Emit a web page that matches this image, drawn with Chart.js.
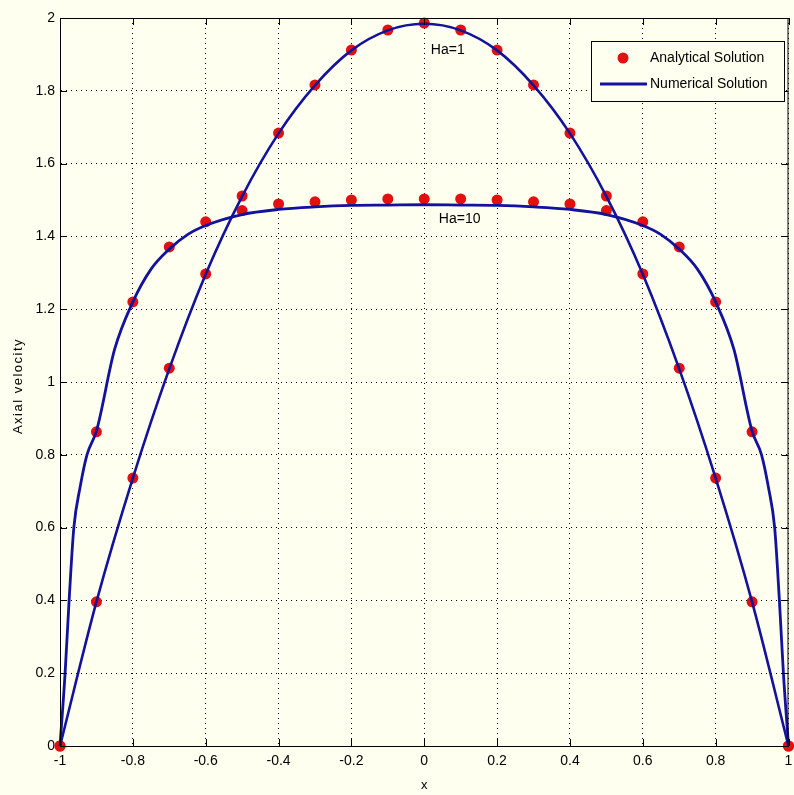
<!DOCTYPE html>
<html>
<head>
<meta charset="utf-8">
<title>Axial velocity</title>
<script src="https://cdn.jsdelivr.net/npm/chart.js@4.4.1/dist/chart.umd.min.js"></script>
<style>
  html, body { margin: 0; padding: 0; background: #fffff0; }
  #wrap { width: 794px; height: 795px; }
</style>
</head>
<body>
<div id="wrap"><canvas id="velocityChart" width="794" height="795"></canvas></div>
<script>
// analytical points (red dots), x = -1 .. 1 step 0.1
const xAnalytical = [-1, -0.9, -0.8, -0.7, -0.6, -0.5, -0.4, -0.3, -0.2, -0.1, 0,
                     0.1, 0.2, 0.3, 0.4, 0.5, 0.6, 0.7, 0.8, 0.9, 1];
const ha1Analytical = [0, 0.396, 0.736, 1.038, 1.297, 1.511, 1.684, 1.816, 1.912, 1.967, 1.986,
                       1.967, 1.912, 1.816, 1.684, 1.511, 1.297, 1.038, 0.736, 0.396, 0];
const ha10Analytical = [0, 0.863, 1.22, 1.371, 1.44, 1.471, 1.489, 1.495, 1.5, 1.503, 1.503,
                        1.503, 1.5, 1.495, 1.489, 1.471, 1.44, 1.371, 1.22, 0.863, 0];

// numerical solution (blue lines)
const xNumHa1 = xAnalytical;
const ha1Numerical = [0, 0.396, 0.736, 1.036, 1.296, 1.51, 1.683, 1.815, 1.911, 1.966, 1.984,
                      1.966, 1.911, 1.815, 1.683, 1.51, 1.296, 1.036, 0.736, 0.396, 0];
const xNumHa10 = [-1, -0.986, -0.975, -0.962, -0.945, -0.926, -0.9, -0.85, -0.8, -0.75, -0.7, -0.65, -0.6,
                  -0.5, -0.4, -0.3, -0.2, -0.1, 0, 0.1, 0.2, 0.3, 0.4, 0.5,
                  0.6, 0.65, 0.7, 0.75, 0.8, 0.85, 0.9, 0.926, 0.945, 0.962, 0.975, 0.986, 1];
const ha10Numerical = [0, 0.2, 0.4, 0.6, 0.71, 0.8, 0.865, 1.09, 1.22, 1.31, 1.365, 1.405, 1.43,
                       1.46, 1.474, 1.481, 1.485, 1.486, 1.487, 1.486, 1.485, 1.481, 1.474, 1.46,
                       1.43, 1.405, 1.365, 1.31, 1.22, 1.09, 0.865, 0.8, 0.71, 0.6, 0.4, 0.2, 0];

const xTicks = [-1, -0.8, -0.6, -0.4, -0.2, 0, 0.2, 0.4, 0.6, 0.8, 1];
const yTicks = [0, 0.2, 0.4, 0.6, 0.8, 1, 1.2, 1.4, 1.6, 1.8, 2];

const curveNames = ['Ha=1', 'Ha=10'];
const legendNames = ['Analytical Solution', 'Numerical Solution'];

const RED = '#e2100f';
const BLUE = '#12129c';
const FONT = '"Liberation Sans", Arial, sans-serif';

Chart.defaults.font.family = FONT;
Chart.defaults.color = '#000';

function zip(xs, ys) {
  return xs.map((x, i) => ({ x: x, y: ys[i] }));
}

// box round the axes, inward tick marks, curve labels, y title and legend
const matlabLook = {
  id: 'matlabLook',
  afterDraw(chart) {
    const ctx = chart.ctx;
    const a = chart.chartArea;
    const xs = chart.scales.x, ys = chart.scales.y;
    ctx.save();
    ctx.strokeStyle = '#000';
    ctx.lineWidth = 1;
    ctx.strokeRect(a.left + 0.5, a.top + 0.5, a.right - a.left - 1, a.bottom - a.top);

    ctx.beginPath();
    xTicks.forEach(t => {
      const px = Math.round(xs.getPixelForValue(t)) + 0.5;
      ctx.moveTo(px, a.bottom); ctx.lineTo(px, a.bottom - 7);
      ctx.moveTo(px, a.top); ctx.lineTo(px, a.top + 7);
    });
    yTicks.forEach(t => {
      const py = Math.round(ys.getPixelForValue(t)) + 0.5;
      ctx.moveTo(a.left, py); ctx.lineTo(a.left + 7, py);
      ctx.moveTo(a.right, py); ctx.lineTo(a.right - 7, py);
    });
    ctx.stroke();

    // curve labels
    ctx.font = '14px ' + FONT;
    ctx.fillStyle = '#000';
    ctx.textAlign = 'left';
    ctx.textBaseline = 'middle';
    ctx.fillText(curveNames[0], xs.getPixelForValue(0.018), ys.getPixelForValue(1.912));
    ctx.fillText(curveNames[1], xs.getPixelForValue(0.04), ys.getPixelForValue(1.448));

    // y axis title
    ctx.save();
    ctx.translate(18, (a.top + a.bottom) / 2 + 4);
    ctx.rotate(-Math.PI / 2);
    ctx.font = '13px ' + FONT;
    ctx.textAlign = 'center';
    ctx.letterSpacing = '1.5px';
    ctx.fillText('Axial velocity', 0, 0);
    ctx.restore();

    // legend
    ctx.fillStyle = '#fffff0';
    ctx.fillRect(591.5, 41.5, 193, 60);
    ctx.strokeRect(591.5, 41.5, 193, 60);
    ctx.fillStyle = RED;
    ctx.beginPath();
    ctx.arc(623, 58, 5.5, 0, Math.PI * 2);
    ctx.fill();
    ctx.strokeStyle = BLUE;
    ctx.lineWidth = 3;
    ctx.beginPath();
    ctx.moveTo(600, 84); ctx.lineTo(647, 84);
    ctx.stroke();
    ctx.fillStyle = '#000';
    ctx.font = '14px ' + FONT;
    ctx.fillText(legendNames[0], 650, 58);
    ctx.fillText(legendNames[1], 650, 84);
    ctx.restore();
  }
};

const myChart = new Chart(document.getElementById('velocityChart').getContext('2d'), {
  type: 'scatter',
  data: {
    datasets: [
      {
        label: legendNames[1] + ' ' + curveNames[0],
        data: zip(xNumHa1, ha1Numerical),
        showLine: true,
        borderColor: BLUE,
        borderWidth: 2.6,
        pointRadius: 0,
        cubicInterpolationMode: 'monotone',
        clip: false,
        order: 0
      },
      {
        label: legendNames[1] + ' ' + curveNames[1],
        data: zip(xNumHa10, ha10Numerical),
        showLine: true,
        borderColor: BLUE,
        borderWidth: 2.8,
        pointRadius: 0,
        cubicInterpolationMode: 'monotone',
        clip: false,
        order: 0
      },
      {
        label: legendNames[0],
        data: zip(xAnalytical, ha1Analytical).concat(zip(xAnalytical, ha10Analytical)),
        showLine: false,
        backgroundColor: RED,
        borderColor: RED,
        borderWidth: 0,
        pointRadius: 5.5,
        clip: false,
        order: 1
      }
    ]
  },
  options: {
    responsive: false,
    devicePixelRatio: 1,
    animation: false,
    layout: { padding: { top: 18, right: 2, left: 0, bottom: 0 } },
    plugins: {
      legend: { display: false },
      tooltip: { enabled: false }
    },
    scales: {
      x: {
        type: 'linear',
        min: -1,
        max: 1,
        afterBuildTicks: s => { s.ticks = xTicks.map(v => ({ value: v })); },
        ticks: {
          font: { size: 14 },
          padding: 7,
          maxRotation: 0,
          callback: v => String(Math.round(v * 10) / 10)
        },
        grid: { color: '#000', lineWidth: 1, drawTicks: false },
        border: { display: true, color: '#000', width: 1, dash: [1, 4] },
        title: { display: true, text: 'x', font: { size: 13 }, padding: { top: 0, bottom: 2 } },
        afterFit: s => { s.height = 49; s.paddingLeft = 0; s.paddingRight = 0; }
      },
      y: {
        type: 'linear',
        min: 0,
        max: 2,
        afterBuildTicks: s => { s.ticks = yTicks.map(v => ({ value: v })); },
        ticks: {
          font: { size: 14 },
          padding: 5,
          callback: v => String(Math.round(v * 10) / 10)
        },
        grid: { color: '#000', lineWidth: 1, drawTicks: false },
        border: { display: true, color: '#000', width: 1, dash: [1, 4] },
        afterFit: s => { s.width = 60; s.paddingTop = 0; s.paddingBottom = 0; }
      }
    }
  },
  plugins: [matlabLook]
});
</script>
</body>
</html>
